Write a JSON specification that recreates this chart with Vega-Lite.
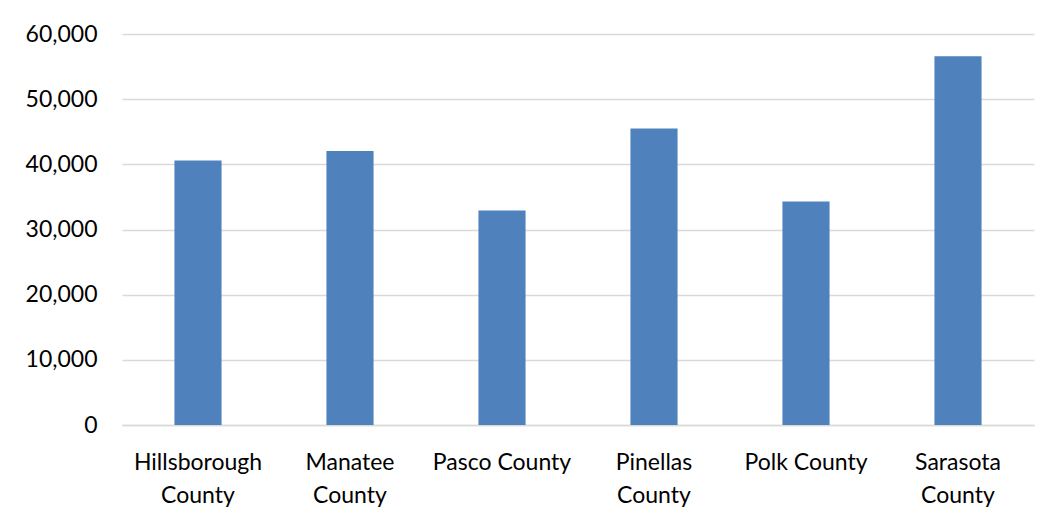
{
  "$schema": "https://vega.github.io/schema/vega-lite/v6.json",
  "width": 912,
  "height": 391,
  "autosize": {"type": "none"},
  "padding": {"left": 122, "top": 34, "right": 29, "bottom": 97},
  "background": "white",
  "data": {
    "values": [
      {"county": "Hillsborough County", "value": 40600},
      {"county": "Manatee County", "value": 42030},
      {"county": "Pasco County", "value": 32930},
      {"county": "Pinellas County", "value": 45510},
      {"county": "Polk County", "value": 34310},
      {"county": "Sarasota County", "value": 56600}
    ]
  },
  "mark": {"type": "bar", "color": "#4F81BD"},
  "encoding": {
    "x": {
      "field": "county",
      "type": "nominal",
      "sort": null,
      "scale": {"paddingInner": 0.69, "paddingOuter": 0.345},
      "axis": {
        "title": null,
        "labelAngle": 0,
        "ticks": false,
        "domainColor": "#D9D9D9",
        "domainWidth": 1.5,
        "labelFont": "Lato",
        "labelFontSize": 23,
        "labelColor": "#000000",
        "labelPadding": 26,
        "labelLineHeight": 33,
        "labelBaseline": "top",
        "labelExpr": "(datum.label == 'Pasco County' || datum.label == 'Polk County') ? datum.label : split(datum.label, ' ')"
      }
    },
    "y": {
      "field": "value",
      "type": "quantitative",
      "scale": {"domain": [0, 60000], "nice": false},
      "axis": {
        "title": null,
        "values": [0, 10000, 20000, 30000, 40000, 50000, 60000],
        "format": ",.0f",
        "domain": false,
        "ticks": false,
        "gridColor": "#D9D9D9",
        "gridWidth": 1.5,
        "labelFont": "Lato",
        "labelFontSize": 23,
        "labelColor": "#000000",
        "labelPadding": 25
      }
    }
  },
  "config": {"view": {"stroke": null}}
}
